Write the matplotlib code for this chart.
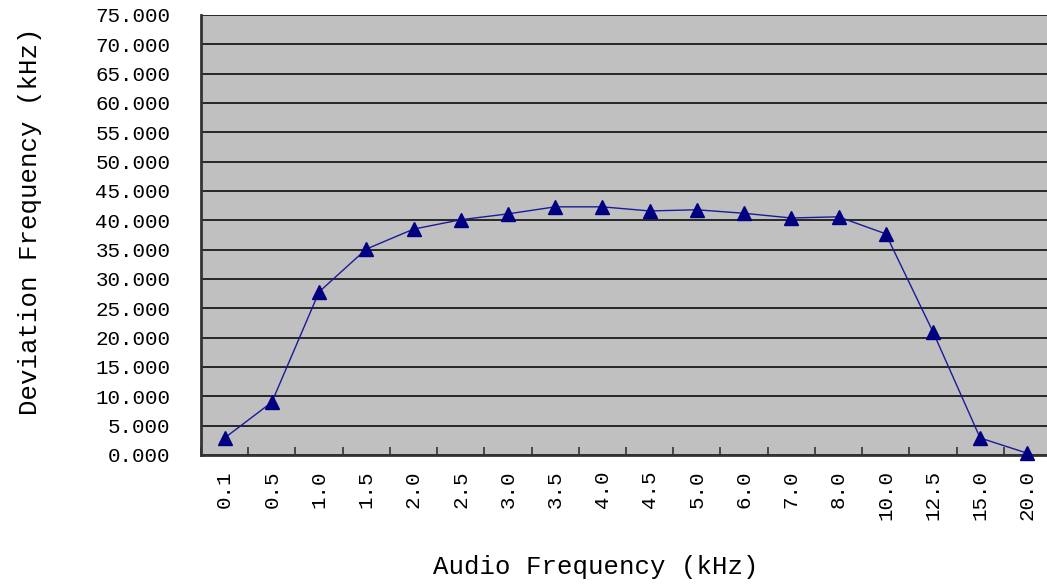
import matplotlib
matplotlib.use("Agg")
import matplotlib.pyplot as plt
from matplotlib.ticker import FixedLocator

categories = ["0.1", "0.5", "1.0", "1.5", "2.0", "2.5", "3.0", "3.5", "4.0",
              "4.5", "5.0", "6.0", "7.0", "8.0", "10.0", "12.5", "15.0", "20.0"]
deviation = [2.9, 9.0, 27.8, 35.1, 38.5, 40.1, 41.1, 42.3, 42.3,
             41.6, 41.8, 41.2, 40.4, 40.6, 37.7, 21.0, 2.9, 0.3]
y_ticks = [0, 5, 10, 15, 20, 25, 30, 35, 40, 45, 50, 55, 60, 65, 70, 75]

plt.rcParams['font.family'] = ['Liberation Mono', 'DejaVu Sans Mono']

fig = plt.figure(figsize=(10.47, 5.86), dpi=100)
ax = fig.add_axes([201/1047, 1 - 455/586, (1051-201)/1047, (455-15)/586])
ax.set_facecolor('#C0C0C0')

x = list(range(len(categories)))
ax.plot(x, deviation, color='#1a1a99', linewidth=1.0, marker='^',
        markersize=10, markerfacecolor='#000080', markeredgecolor='#000080',
        zorder=3, clip_on=False)

ax.set_xlim(-0.5, len(categories) - 0.5)
ax.set_ylim(0, 75)
ax.set_yticks(y_ticks)
ax.set_yticklabels([f"{v:.3f}" for v in y_ticks], fontsize=15)
ax.set_xticks(x)
ax.set_xticklabels(categories, rotation=90, fontsize=15)
ax.xaxis.set_minor_locator(FixedLocator([i + 0.5 for i in range(-1, len(categories))]))
ax.tick_params(axis='x', which='major', length=0, pad=11)
ax.tick_params(axis='x', which='minor', direction='in', length=6, width=1.2, color='#333333')
ax.tick_params(axis='y', which='major', length=0, pad=22)

ax.yaxis.grid(True, color='#1a1a1a', linewidth=1.3)
ax.set_axisbelow(True)
for side in ['top', 'right']:
    ax.spines[side].set_visible(False)
ax.spines['left'].set_color('#333333')
ax.spines['bottom'].set_color('#333333')
ax.spines['left'].set_linewidth(2)
ax.spines['bottom'].set_linewidth(2)

ax.set_xlabel("Audio Frequency (kHz)", fontsize=18.5, va='center')
ax.xaxis.set_label_coords((596 - 201) / 850, (455 - 567) / 440)
ax.set_ylabel("Deviation Frequency (kHz)", fontsize=18.5, va='center')
ax.yaxis.set_label_coords((30 - 201) / 850, (455 - 221) / 440)

fig.savefig("out.png", dpi=100)
